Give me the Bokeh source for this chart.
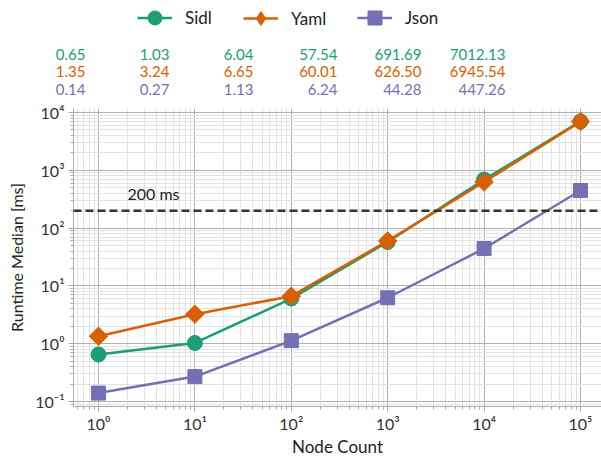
import math
from bokeh.plotting import figure
from bokeh.layouts import column
from bokeh.models import (Range1d, Label, Span, Legend, LegendItem, FixedTicker,
                          ColumnDataSource)
from bokeh.core.properties import value
from bokeh.embed import file_html
from bokeh.resources import INLINE

node_counts = [1, 10, 100, 1000, 10000, 100000]
sidl = [0.65, 1.03, 6.04, 57.54, 691.69, 7012.13]
yaml = [1.35, 3.24, 6.65, 60.01, 626.50, 6945.54]
json_ = [0.14, 0.27, 1.13, 6.24, 44.28, 447.26]
threshold = 200
threshold_label = "200 ms"
series_names = ["Sidl", "Yaml", "Json"]
colors = ["#1b9e77", "#d95f02", "#7570b3"]
x_ticks = [1, 10, 100, 1000, 10000, 100000]
x_tick_labels = ["10⁰", "10¹", "10²", "10³", "10⁴", "10⁵"]
y_ticks = [0.1, 1, 10, 100, 1000, 10000]
y_tick_labels = ["10⁻¹", "10⁰", "10¹", "10²", "10³", "10⁴"]

FONT = "Lato"
W = 601
LEFT = 73
TOP_H = 100
MAIN_H = 359

data = [sidl, yaml, json_]
markers = ["circle", "square", "square"]
legend_markers = ["circle", "diamond", "square"]
angles = [0, math.pi / 4, 0]
sizes = [15, 13, 14]

# ---------------- top strip: legend + value table ----------------
top = figure(width=W, height=TOP_H, x_range=Range1d(0, W), y_range=Range1d(TOP_H, 0),
             x_axis_location=None, y_axis_location=None,
             output_backend="svg", toolbar_location=None,
             min_border_left=0, min_border_right=0,
             min_border_top=0, min_border_bottom=0)
top.frame_align = False
top.grid.visible = False
top.outline_line_color = None

row_y = [54, 71, 89]
col_x0, col_dx = 85, 84
legend_x = [137, 243, 357]
for name, vals, c, lm, s, ry, lx in zip(series_names, data, colors, legend_markers,
                                        sizes, row_y, legend_x):
    src = ColumnDataSource(dict(x=[col_x0 + col_dx * i for i in range(len(vals))],
                                y=[ry] * len(vals),
                                t=[f"{v:.2f}" for v in vals]))
    top.text(x="x", y="y", text="t", source=src, text_align="right",
             text_baseline="middle", text_font=value(FONT), text_font_size="15px",
             text_color=c)
    d1 = top.line([-100, -90], [-100, -90], line_color=c, line_width=2.5)
    d2 = top.scatter([-100], [-100], marker=lm, size=s, fill_color=c, line_color=c)
    lg = Legend(items=[LegendItem(label=name, renderers=[d1, d2])],
                orientation="horizontal", location=(lx, 65),
                label_text_font=FONT, label_text_font_size="17px",
                label_text_color="#222222", glyph_width=35,
                glyph_height=40 if lm == "diamond" else 35,
                label_standoff=13, padding=0, margin=0,
                border_line_color=None, background_fill_alpha=0)
    if lm == "diamond":
        lg.location = (lx, 62)
    top.add_layout(lg, "center")

# ---------------- main plot ----------------
p = figure(width=W, height=MAIN_H, x_axis_type="log", y_axis_type="log",
           x_range=Range1d(10 ** -0.2593, 10 ** 5.2178),
           y_range=Range1d(10 ** -1.0859, 10 ** 4.0687),
           output_backend="svg", toolbar_location=None,
           min_border_left=LEFT, min_border_right=0, min_border_top=8,
           min_border_bottom=51)
p.frame_align = False
p.outline_line_color = None
p.background_fill_color = "white"

for ax, ticks, labels in ((p.xaxis, x_ticks, x_tick_labels), (p.yaxis, y_ticks, y_tick_labels)):
    ax.ticker = FixedTicker(ticks=ticks, minor_ticks=[m * t for t in [0.01, 0.1] + ticks for m in range(2, 10)])
    ax.major_label_overrides = {t: l for t, l in zip(ticks, labels)}
    ax.major_label_text_font = FONT
    ax.major_label_text_font_size = "16px"
    ax.major_label_text_color = "#333333"
    ax.axis_label_text_font = FONT
    ax.axis_label_text_font_style = "normal"
    ax.axis_label_text_color = "#222222"
    ax.axis_line_color = "#aaaaaa"
    ax.major_tick_line_color = "#aaaaaa"
    ax.minor_tick_line_color = "#aaaaaa"
    ax.major_tick_out = 5
    ax.major_tick_in = 0
    ax.minor_tick_out = 3
    ax.minor_tick_in = 0

p.xaxis.axis_label = "Node Count"
p.yaxis.axis_label = "Runtime Median [ms]"
p.xaxis.axis_label_text_font_size = "17px"
p.yaxis.axis_label_text_font_size = "16px"
p.xaxis.major_label_standoff = 2
p.yaxis.major_label_standoff = 4
p.xaxis.axis_label_standoff = 0
p.yaxis.axis_label_standoff = 6

for g in (p.xgrid, p.ygrid):
    g.grid_line_color = "#b0b0b0"
    g.grid_line_width = 1
    g.minor_grid_line_color = "#e3e3e3"
    g.minor_grid_line_width = 1

p.add_layout(Span(location=threshold, dimension="width", line_color="#333333",
                  line_width=2.5, line_dash="8 4"))
p.add_layout(Label(x=2, y=270, text=threshold_label, text_font=FONT,
                   text_font_size="16px", text_color="#222222"))

for name, vals, c, m, a, s in zip(series_names, data, colors, markers, angles, sizes):
    p.line(node_counts, vals, line_color=c, line_width=2.5)
    p.scatter(node_counts, vals, marker=m, angle=a, size=s, fill_color=c, line_color=c)

layout = column(top, p, spacing=0)
open("out.html", "w").write(file_html(layout, INLINE))
